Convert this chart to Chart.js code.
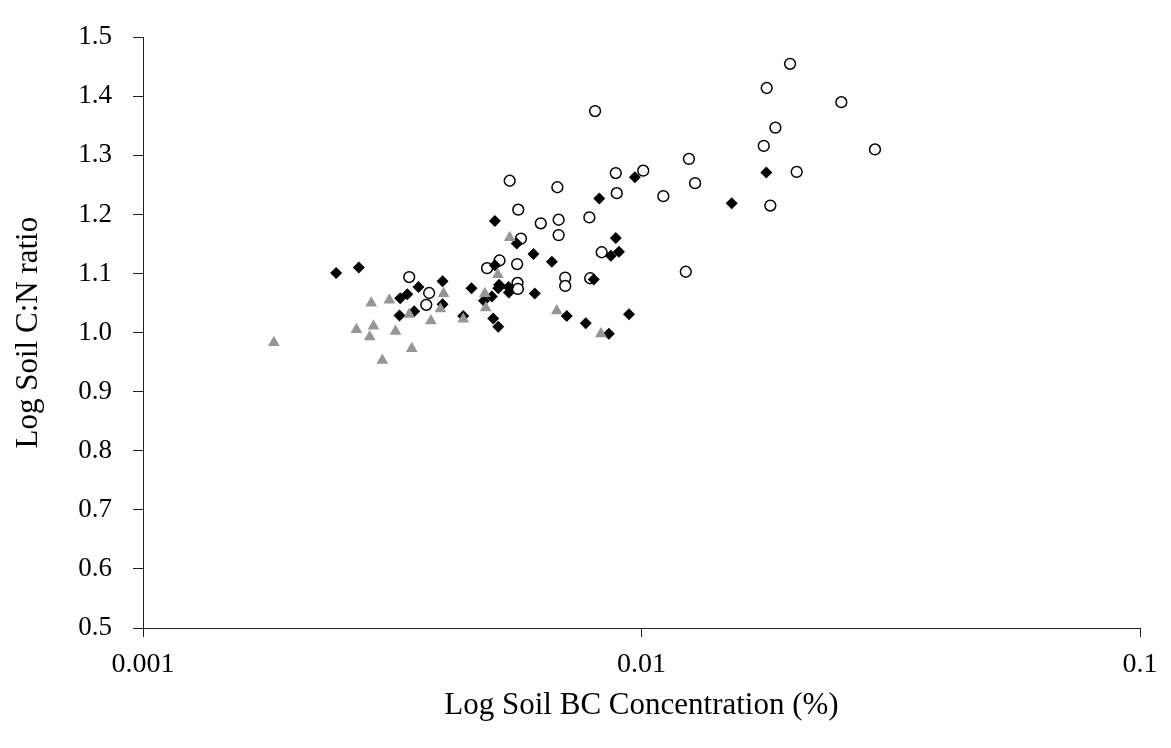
<!DOCTYPE html>
<html>
<head>
<meta charset="utf-8">
<title>Soil BC vs C:N</title>
<script src="https://cdn.jsdelivr.net/npm/chart.js@4/dist/chart.umd.min.js"></script>
<style>
  html, body { margin: 0; padding: 0; background: #fff; }
  #wrap { width: 1171px; height: 748px; }
</style>
</head>
<body>
<div id="wrap"><canvas id="bc-chart" width="1171" height="748"></canvas></div>
<script>
// Open circles
const circleX = [0.00342, 0.00375, 0.00370, 0.00490, 0.00519, 0.00544, 0.00566, 0.00573, 0.00563, 0.00564,
  0.00565, 0.00628, 0.00678, 0.00682, 0.00682, 0.00703, 0.00703, 0.00786, 0.00789, 0.00807,
  0.00832, 0.00888, 0.00892, 0.01008, 0.01106, 0.01227, 0.01245, 0.01281, 0.01759, 0.01783,
  0.01813, 0.01856, 0.01986, 0.02048, 0.02517, 0.02940];
const circleY = [1.094, 1.067, 1.047, 1.109, 1.122, 1.257, 1.208, 1.159, 1.116, 1.084,
  1.074, 1.185, 1.246, 1.191, 1.165, 1.093, 1.079, 1.195, 1.092, 1.375,
  1.136, 1.270, 1.236, 1.274, 1.231, 1.103, 1.294, 1.253, 1.316, 1.414,
  1.215, 1.347, 1.455, 1.272, 1.390, 1.310];

// Black diamonds
const diamondX = [0.00244, 0.00271, 0.00328, 0.00339, 0.00357, 0.00327, 0.00350, 0.00399, 0.00399, 0.00456,
  0.00439, 0.00483, 0.00501, 0.00504, 0.00516, 0.00508, 0.00508, 0.00518, 0.00516, 0.00541,
  0.00542, 0.00562, 0.00607, 0.00611, 0.00661, 0.00708, 0.00773, 0.00802, 0.00823, 0.00860,
  0.00868, 0.00888, 0.00901, 0.00944, 0.00970, 0.01517, 0.01780];
const diamondY = [1.101, 1.110, 1.058, 1.065, 1.077, 1.029, 1.036, 1.087, 1.048, 1.075,
  1.028, 1.054, 1.061, 1.024, 1.010, 1.114, 1.189, 1.081, 1.075, 1.077,
  1.068, 1.151, 1.133, 1.066, 1.120, 1.028, 1.016, 1.090, 1.227, 0.998,
  1.130, 1.160, 1.137, 1.031, 1.263, 1.219, 1.271];

// Grey triangles
const triangleX = [0.00183, 0.00268, 0.00285, 0.00287, 0.00290, 0.00302, 0.00312, 0.00321, 0.00342, 0.00346,
  0.00378, 0.00395, 0.00401, 0.00439, 0.00485, 0.00487, 0.00515, 0.00544, 0.00676, 0.00829];
const triangleY = [0.983, 1.005, 0.993, 1.050, 1.011, 0.953, 1.055, 1.002, 1.031, 0.973,
  1.020, 1.040, 1.066, 1.023, 1.066, 1.042, 1.098, 1.161, 1.037, 0.998];

const xTickValues = [0.001, 0.01, 0.1];
const xTickLabels = ['0.001', '0.01', '0.1'];

const toPoints = (xs, ys) => xs.map((x, i) => ({ x, y: ys[i] }));

const SERIF = "'Liberation Serif', 'Times New Roman', serif";
const AXIS = '#222';

new Chart(document.getElementById('bc-chart'), {
  type: 'scatter',
  data: {
    datasets: [
      {
        label: 'triangles',
        data: toPoints(triangleX, triangleY),
        pointStyle: 'triangle',
        pointRadius: 6.8,
        backgroundColor: '#969696',
        borderColor: '#969696',
        borderWidth: 0,
      },
      {
        label: 'diamonds',
        data: toPoints(diamondX, diamondY),
        pointStyle: 'rectRot',
        pointRadius: 6,
        backgroundColor: '#000',
        borderColor: '#000',
        borderWidth: 0,
      },
      {
        label: 'circles',
        data: toPoints(circleX, circleY),
        pointStyle: 'circle',
        pointRadius: 5.4,
        backgroundColor: '#fff',
        borderColor: '#000',
        borderWidth: 1.5,
      },
    ],
  },
  options: {
    responsive: false,
    animation: false,
    layout: { padding: { left: 0, right: 31, top: 17, bottom: 0 } },
    plugins: {
      legend: { display: false },
      tooltip: { enabled: false },
    },
    scales: {
      x: {
        type: 'logarithmic',
        min: 0.001,
        max: 0.1,
        afterBuildTicks: (s) => { s.ticks = xTickValues.map(v => ({ value: v })); },
        afterFit: (s) => { s.height = 120; },
        ticks: {
          autoSkip: false,
          maxRotation: 0,
          padding: 11,
          color: '#000',
          font: { family: SERIF, size: 28 },
          callback: (v) => xTickLabels[xTickValues.indexOf(v)] ?? '',
        },
        grid: { drawOnChartArea: false, drawTicks: true, tickLength: 9, color: AXIS },
        border: { display: true, color: AXIS, width: 1 },
        title: {
          display: true,
          text: 'Log Soil BC Concentration (%)',
          color: '#000',
          font: { family: SERIF, size: 31 },
          padding: { top: 0, bottom: 24 },
        },
      },
      y: {
        min: 0.5,
        max: 1.5,
        afterFit: (s) => { s.width = 143; },
        ticks: {
          stepSize: 0.1,
          padding: 21,
          color: '#000',
          font: { family: SERIF, size: 27 },
          callback: (v) => Number(v).toFixed(1),
        },
        grid: { drawOnChartArea: false, drawTicks: true, tickLength: 10, color: AXIS },
        border: { display: true, color: AXIS, width: 1 },
        title: {
          display: true,
          text: 'Log Soil C:N ratio',
          color: '#000',
          font: { family: SERIF, size: 31 },
          padding: { top: 10, bottom: 0 },
        },
      },
    },
  },
});
</script>
</body>
</html>
